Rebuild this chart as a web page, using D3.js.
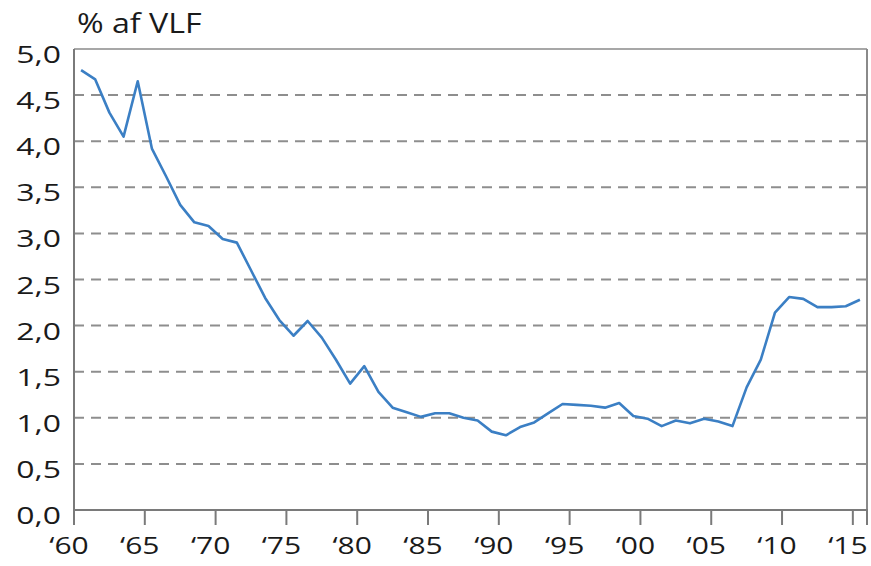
<!DOCTYPE html>
<html>
<head>
<meta charset="utf-8">
<script src="https://cdn.jsdelivr.net/npm/d3@7"></script>
<style>
  html, body { margin: 0; padding: 0; background: #fff; }
  svg { display: block; }
  text { font-family: "Open Sans", sans-serif; fill: #1a1a1a; }
</style>
</head>
<body>
<svg id="chart" width="871" height="566"></svg>
<script>
const years = d3.range(1960, 2016);
const values = [
  4.77, 4.67, 4.31, 4.05, 4.65, 3.92, 3.62, 3.31, 3.12, 3.08,
  2.94, 2.90, 2.60, 2.30, 2.06, 1.89, 2.05, 1.87, 1.63, 1.37,
  1.56, 1.28, 1.11, 1.06, 1.01, 1.05, 1.05, 1.00, 0.97, 0.85,
  0.81, 0.90, 0.95, 1.05, 1.15, 1.14, 1.13, 1.11, 1.16, 1.02,
  0.99, 0.91, 0.97, 0.94, 0.99, 0.96, 0.91, 1.33, 1.63, 2.14,
  2.31, 2.29, 2.20, 2.20, 2.21, 2.28
];
const yTicks = [0, 0.5, 1.0, 1.5, 2.0, 2.5, 3.0, 3.5, 4.0, 4.5, 5.0];
const xTickYears = [1960, 1965, 1970, 1975, 1980, 1985, 1990, 1995, 2000, 2005, 2010, 2015];
const xTickLabels = ["‘60", "‘65", "‘70", "‘75", "‘80", "‘85", "‘90", "‘95", "‘00", "‘05", "‘10", "‘15"];
const yLabel = "% af VLF";

const svg = d3.select("#chart");
const L = 74, R = 867, T = 49, B = 510;
const x = d3.scaleLinear().domain([1960, 2016]).range([L, R]);
const y = d3.scaleLinear().domain([0, 5]).range([B, T]);
const fmt = v => d3.format(".1f")(v).replace(".", ",");

// gridlines
svg.append("g").selectAll("line")
  .data(yTicks.filter(v => v > 0 && v < 5))
  .join("line")
  .attr("x1", L).attr("x2", R)
  .attr("y1", d => y(d)).attr("y2", d => y(d))
  .attr("stroke", "#8e8e8e").attr("stroke-width", 2)
  .attr("stroke-dasharray", "10,7");

// frame
svg.append("line").attr("x1", L).attr("x2", R).attr("y1", T).attr("y2", T)
  .attr("stroke", "#8a8a8a").attr("stroke-width", 1.5);
svg.append("line").attr("x1", R).attr("x2", R).attr("y1", T).attr("y2", B)
  .attr("stroke", "#8a8a8a").attr("stroke-width", 2);
svg.append("line").attr("x1", L).attr("x2", L).attr("y1", T).attr("y2", B)
  .attr("stroke", "#7a7a7a").attr("stroke-width", 2);
svg.append("line").attr("x1", L - 1).attr("x2", R + 1).attr("y1", B).attr("y2", B)
  .attr("stroke", "#7a7a7a").attr("stroke-width", 2);

// x ticks
svg.append("g").selectAll("line")
  .data(xTickYears.concat([2016]))
  .join("line")
  .attr("x1", d => x(d)).attr("x2", d => x(d))
  .attr("y1", B).attr("y2", B + 15)
  .attr("stroke", "#7a7a7a").attr("stroke-width", 2);

// x labels
svg.append("g").selectAll("text")
  .data(xTickYears)
  .join("text")
  .attr("transform", d => `translate(${x(d) - 5},554) scale(1.25,1)`)
  .attr("text-anchor", "middle")
  .attr("font-size", 24)
  .text((d, i) => xTickLabels[i]);

// y labels
svg.append("g").selectAll("text")
  .data(yTicks)
  .join("text")
  .attr("transform", d => `translate(61,${y(d) + 14}) scale(1.33,1)`)
  .attr("text-anchor", "end")
  .attr("font-size", 24)
  .text(d => fmt(d));

// title
svg.append("text")
  .attr("transform", "translate(77,33) scale(1.15,1)")
  .attr("font-size", 28)
  .text(yLabel);

// line
const line = d3.line()
  .x((d, i) => x(years[i] + 0.5))
  .y(d => y(d));
svg.append("path")
  .datum(values)
  .attr("d", line)
  .attr("fill", "none")
  .attr("stroke", "#3b7fc4")
  .attr("stroke-width", 2.6)
  .attr("stroke-linejoin", "round");
</script>
</body>
</html>
